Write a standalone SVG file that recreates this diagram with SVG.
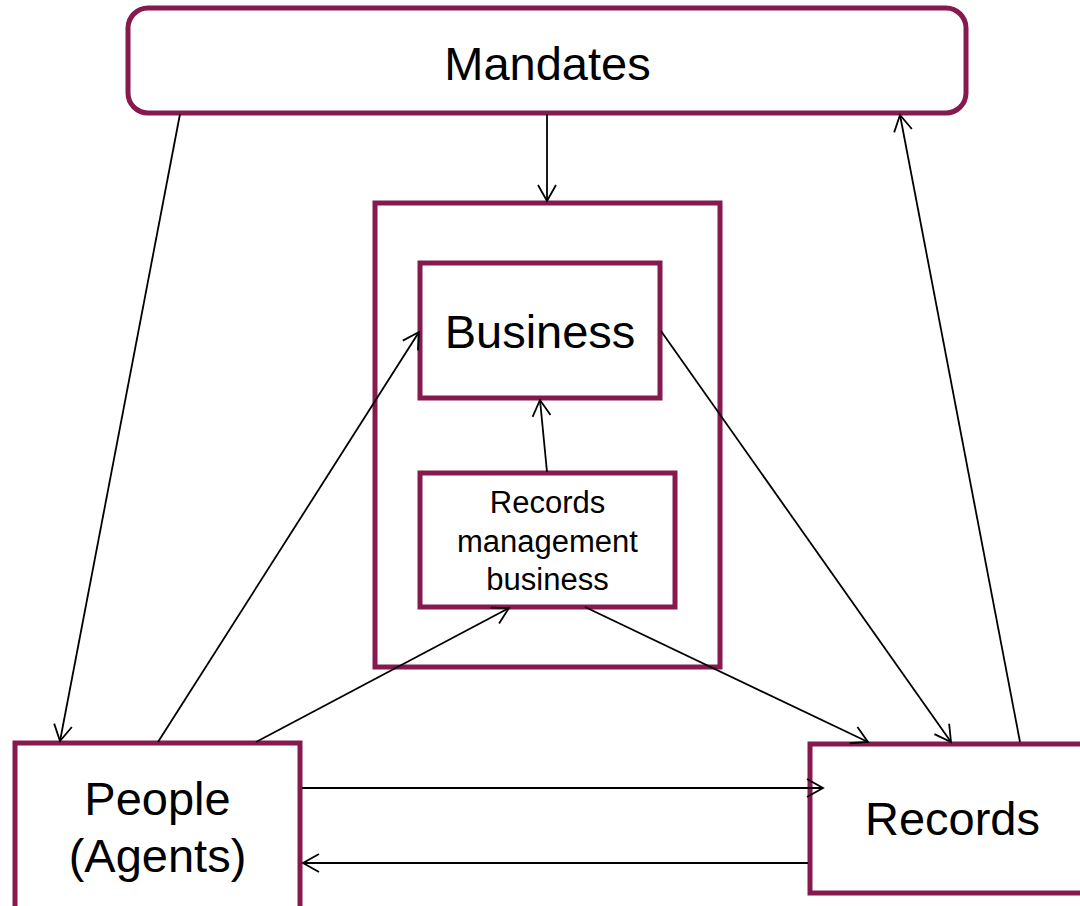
<svg xmlns="http://www.w3.org/2000/svg" width="1080" height="906" viewBox="0 0 1080 906">
  <defs>
    <style>
      .box { fill: #ffffff; stroke: #861A4E; stroke-width: 5; }
      .lbl { font-family: "Liberation Sans", Arial, sans-serif; fill: #000000; text-anchor: middle; }
      .big { font-size: 47px; }
      .small { font-size: 31px; }
      .conn { stroke: #000000; stroke-width: 1.8; fill: none; marker-end: url(#arrow); }
    </style>
    <marker id="arrow" markerUnits="userSpaceOnUse" viewBox="0 0 20 20" refX="18" refY="10" markerWidth="20" markerHeight="20" orient="auto" overflow="visible">
      <path d="M2,1 L18,10 L2,19" fill="none" stroke="#000000" stroke-width="1.8"/>
    </marker>
  </defs>
  <rect width="1080" height="906" fill="#ffffff"/>

  <g id="mandates">
    <rect class="box" x="128" y="8" width="838" height="105" rx="20" ry="20"/>
    <text class="lbl big" x="547.5" y="80" font-size="48">Mandates</text>
  </g>

  <g id="business-container">
    <rect class="box" x="375" y="203" width="345" height="464"/>
  </g>

  <g id="business">
    <rect class="box" x="420" y="263" width="240" height="135"/>
    <text class="lbl big" x="540" y="348">Business</text>
  </g>

  <g id="records-management-business">
    <rect class="box" x="420" y="473" width="255" height="134"/>
    <text class="lbl small" x="547.5" y="513">Records</text>
    <text class="lbl small" x="547.5" y="551.5">management</text>
    <text class="lbl small" x="547.5" y="590">business</text>
  </g>

  <g id="people">
    <rect class="box" x="15" y="743" width="285" height="175"/>
    <text class="lbl big" x="157.5" y="815">People</text>
    <text class="lbl big" x="157.5" y="872">(Agents)</text>
  </g>

  <g id="records">
    <rect class="box" x="810" y="744" width="290" height="149"/>
    <text class="lbl big" x="952.5" y="835">Records</text>
  </g>

  <g id="connectors">
    <line class="conn" x1="180" y1="114" x2="60" y2="741"/>
    <line class="conn" x1="547" y1="114" x2="547" y2="201"/>
    <line class="conn" x1="1020" y1="742" x2="900" y2="115"/>
    <line class="conn" x1="158" y1="742" x2="419" y2="332"/>
    <line class="conn" x1="256" y1="742" x2="509" y2="608"/>
    <line class="conn" x1="661" y1="331" x2="951" y2="742"/>
    <line class="conn" x1="585" y1="607" x2="868" y2="742"/>
    <line class="conn" x1="547" y1="472" x2="540" y2="400"/>
    <line class="conn" x1="302" y1="788" x2="823" y2="788"/>
    <line class="conn" x1="808" y1="863" x2="303" y2="863"/>
  </g>
</svg>
